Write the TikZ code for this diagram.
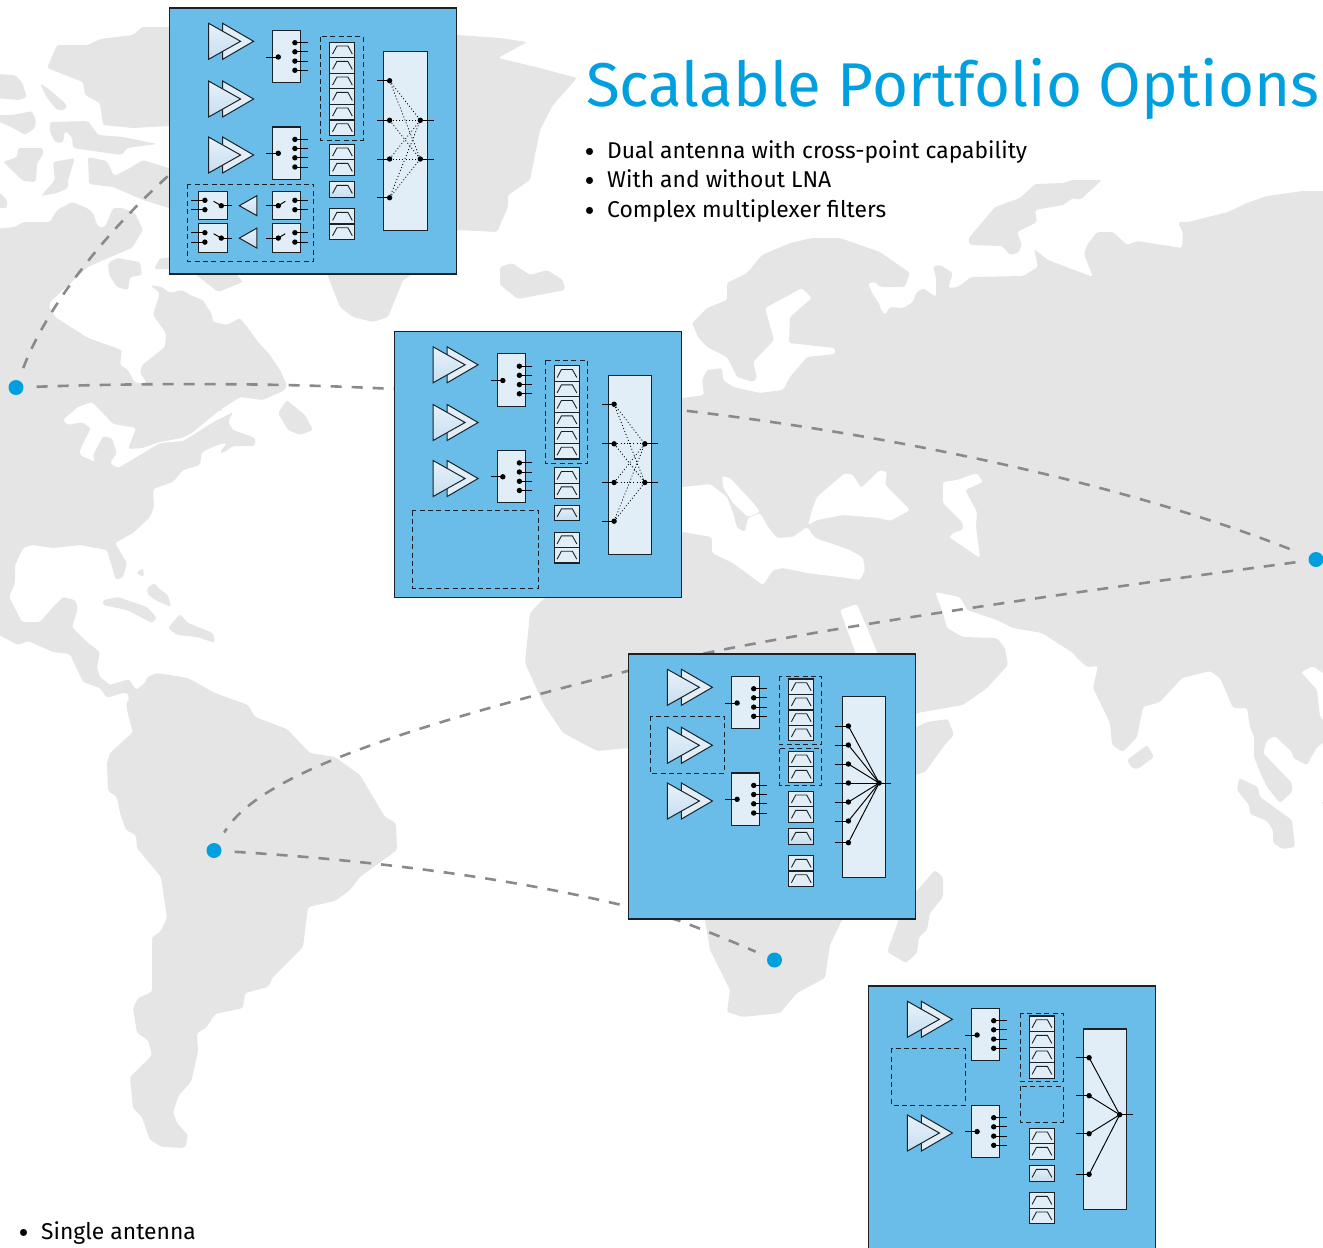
\documentclass[tikz,border=0pt]{standalone}
\usepackage{fontspec}
\setmainfont{Fira Sans}
\definecolor{land}{HTML}{E5E5E5}
\definecolor{cardblue}{HTML}{69BDE8}
\definecolor{panel}{HTML}{E1EEF8}
\definecolor{panelhi}{HTML}{E8F2FA}
\definecolor{panello}{HTML}{C6DEF0}
\definecolor{accent}{HTML}{009FDF}
\definecolor{route}{HTML}{8A8A8C}
\definecolor{ink}{HTML}{1A2228}
\tikzset{
  landmass/.style={fill=land,draw=none,rounded corners=2.5pt},
  sea/.style={fill=white,draw=none,rounded corners=2.5pt},
  routeline/.style={draw=route,line width=2.6pt,dash pattern=on 11pt off 10pt,shorten <=13pt,shorten >=13pt},
  site/.style={circle,fill=accent,inner sep=0pt,minimum size=15pt},
  card/.style={fill=cardblue,draw=ink,line width=1.1pt},
  pane/.style={fill=panel,draw=ink,line width=1.05pt},
  amp/.style={draw=ink,line width=1pt,line join=miter,top color=panelhi,bottom color=panello},
  ampback/.style={draw=ink,line width=1pt,line join=miter,fill=panel},
  dashbox/.style={draw=ink,line width=.95pt,dash pattern=on 5pt off 3.4pt},
  wdot/.style={circle,fill=black,inner sep=0pt,minimum size=5.4pt},
  wire/.style={draw=black,line width=.95pt},
  glyph/.style={draw=ink,line width=.9pt},
  dotwire/.style={draw=black,line width=.8pt,dash pattern=on 1pt off 2.2pt},
  bodytext/.style={anchor=base west,inner sep=0pt,font=\fontsize{22.85}{22.85}\selectfont,text=black},
  titletext/.style={anchor=base west,inner sep=0pt,font=\fontsize{61.85}{61.85}\selectfont,text=accent}
}
\newcommand\AmpPair[1]{%
  \path[ampback] (53,#1-18) -- (84,#1) -- (53,#1+18) -- cycle;
  \path[amp] (39,#1-18) -- (71,#1) -- (39,#1+18) -- cycle;}
\newcommand\Pin[4]{%
  \node[wdot] (#1) at (#2,#3) {};
  \coordinate (#1s) at (#4,#3);
  \draw[wire] (#1s) -- (#1.center);}
\newcommand\SwFour[3]{% name, top, input y
  \draw[pane] (103,#2) rectangle (131.3,#2+52.4);
  \Pin{#1in}{108.7}{#3}{96.7}
  \foreach \k/\d in {a/12.4,b/21.5,c/30.8,d/40}{\Pin{#1\k}{125.3}{#2+\d}{138.3}}}
\newcommand\Filts[2]{% x, list of tops
  \foreach \t in {#2}{%
    \draw[pane] (#1,\t) rectangle (#1+25.3,\t+15.5);
    \draw[glyph] (#1+3,\t+11.7) -- (#1+7.3,\t+3.7) -- (#1+18.3,\t+3.7) -- (#1+22.7,\t+11.7);}}
\newcommand\Solo[2]{%
  \path[pane,top color=panelhi,bottom color=panello] (#1,#2) rectangle (#1+25.3,#2+15.5);
  \draw[glyph] (#1+3,#2+11.7) -- (#1+7.3,#2+3.7) -- (#1+18.3,#2+3.7) -- (#1+22.7,#2+11.7);}
\begin{document}
\begin{tikzpicture}[x=1pt,y=-1pt]
\useasboundingbox (0,0) rectangle (1323,1248);
% ---------- map ----------
\fill[landmass] (47,68)--(57,45)--(88,45)--(100,39)--(133,35)--(142,27)--(170,27)--(200,20)--(457,35)--(500,38)--(527,42)--(498,58)--(540,68)--(577,78)--(553,105)--(540,130)--(530,180)--(508,195)--(508,207)--(497,232)--(457,230)--(430,250)--(413,274)--(403,280)--(388,317)--(373,322)--(353,317)--(340,307)--(327,274)--(300,200)--(200,150)--(170,126)--(133,128)--(103,125)--(100,103)--(85,95)--(83,82)--cycle;
\fill[landmass] (-5,74)--(15,75)--(22,82)--(27,97)--(20,100)--(-5,98)--cycle;
\fill[landmass] (40,83)--(50,90)--(67,105)--(65,110)--(57,110)--(47,98)--cycle;
\fill[landmass] (-5,115)--(13,115)--(32,111)--(36,120)--(35,128)--(25,135)--(13,128)--(-5,120)--cycle;
\fill[landmass] (50,122)--(88,121)--(98,135)--(123,137)--(157,144)--(127,148)--(122,155)--(100,152)--(73,148)--(72,137)--(65,131)--(63,143)--(55,142)--(50,132)--cycle;
\fill[landmass] (3,162)--(17,157)--(18,148)--(43,148)--(43,155)--(37,163)--(36,182)--(23,181)--(15,173)--cycle;
\fill[landmass] (53,162)--(75,158)--(68,180)--(68,188)--(57,193)--(41,196)--(55,180)--cycle;
\fill[landmass] (88,157)--(107,161)--(114,176)--(128,169)--(143,160)--(175,170)--(175,210)--(143,200)--(113,187)--(89,184)--cycle;
\fill[landmass] (-5,188)--(7,200)--(7,208)--(-5,208)--cycle;
\fill[landmass] (108,263)--(117,258)--(140,262)--(142,275)--(130,277)--(128,290)--(117,287)--(109,275)--cycle;
\fill[landmass] (154,269)--(160,258)--(175,257)--(175,269)--cycle;
\fill[landmass] (190,270)--(218,292)--(243,282)--(233,270)--cycle;
% Americas
\fill[landmass] (-5,229)--(15,227)--(23,222)--(50,222)--(57,210)--(72,202)--(87,208)--(93,213)--(98,227)--(105,227)--(113,208)--(122,208)--(135,213)--(143,230)--(132,248)--(108,258)--(88,267)--(50,302)--(49,307)--(55,317)--(88,338)--(122,350)--(120,365)--(128,370)--(135,383)--(147,383)--(140,373)--(142,365)--(165,347)--(166,333)--(153,315)--(160,293)--(150,285)--(162,287)--(170,293)--(182,290)--(190,295)--(203,300)--(212,315)--(213,322)--(227,325)--(240,318)--(248,328)--(258,342)--(270,355)--(280,370)--(287,385)--(285,390)--(263,400)--(240,397)--(220,410)--(233,412)--(228,422)--(233,430)--(255,438)--(255,446)--(233,446)--(223,453)--(220,452)--(227,443)--(217,445)--(202,452)--(200,465)--(183,470)--(173,482)--(153,489)--(154,507)--(150,517)--(133,533)--(115,543)--(127,563)--(123,577)--(116,580)--(107,550)--(80,545)--(53,548)--(32,545)--(23,548)--(15,565)--(15,583)--(9,597)--(22,622)--(40,622)--(53,607)--(63,597)--(75,600)--(78,608)--(72,627)--(87,642)--(100,652)--(97,667)--(100,677)--(110,685)--(129,679)--(136,690)--(145,683)--(147,677)--(157,673)--(188,678)--(215,693)--(248,705)--(255,717)--(287,729)--(310,753)--(335,757)--(360,775)--(385,817)--(396,823)--(397,850)--(360,877)--(350,890)--(335,901)--(308,907)--(303,947)--(273,977)--(268,987)--(245,993)--(243,1008)--(215,1014)--(206,1028)--(197,1033)--(198,1052)--(191,1082)--(179,1095)--(173,1112)--(177,1123)--(188,1135)--(185,1148)--(162,1147)--(150,1140)--(142,1117)--(133,1108)--(130,1077)--(152,1055)--(148,1040)--(137,1033)--(133,1008)--(138,998)--(152,992)--(152,937)--(160,932)--(167,918)--(161,877)--(137,848)--(136,835)--(126,830)--(120,813)--(117,797)--(108,791)--(107,763)--(110,753)--(133,732)--(128,715)--(126,702)--(129,702)--(128,693)--(122,693)--(107,698)--(100,688)--(83,682)--(70,654)--(53,652)--(28,641)--(18,645)--(-5,633)--cycle;
% lakes and St Lawrence
\fill[sea] (63,420)--(78,407)--(92,402)--(113,424)--(136,428)--(128,449)--(143,448)--(160,442)--(182,438)--(192,433)--(220,410)--(233,412)--(213,422)--(193,435)--(183,441)--(160,443)--(118,468)--(110,463)--(117,453)--(112,438)--(103,436)--(93,455)--(95,462)--(80,455)--(80,450)--(91,428)--(82,422)--(68,425)--cycle;
% Newfoundland, Caribbean
\fill[landmass] (278,413)--(287,400)--(290,403)--(305,415)--(313,430)--(300,435)--(288,430)--cycle;
\fill[landmass] (103,600)--(118,597)--(147,607)--(157,618)--(152,623)--(127,610)--(103,605)--cycle;
\fill[landmass] (168,628)--(180,614)--(188,623)--(213,633)--(215,643)--(197,637)--(177,635)--cycle;
\fill[landmass] (136,573)--(143,568)--(144,577)--cycle;
\fill[landmass] (147,588)--(155,583)--(158,588)--(168,595)--(171,607)--(157,601)--(148,595)--cycle;
% Eurasia + Africa
\fill[landmass] (692,323)--(707,308)--(727,300)--(727,283)--(747,273)--(762,255)--(790,243)--(812,238)--(840,238)--(880,252)--(910,273)--(905,287)--(880,287)--(875,282)--(868,283)--(872,293)--(880,305)--(880,308)--(885,315)--(890,307)--(903,308)--(913,302)--(916,293)--(923,288)--(936,297)--(936,277)--(933,266)--(940,265)--(953,273)--(948,288)--(958,287)--(971,277)--(1023,276)--(1038,267)--(1034,249)--(1048,260)--(1077,271)--(1093,277)--(1084,254)--(1087,245)--(1097,232)--(1113,232)--(1127,245)--(1137,241)--(1182,248)--(1183,233)--(1178,222)--(1188,222)--(1228,212)--(1247,203)--(1267,196)--(1303,191)--(1330,191)--(1330,678)--(1313,666)--(1301,672)--(1317,690)--(1320,717)--(1330,726)--(1330,738)--(1317,747)--(1307,765)--(1293,758)--(1292,752)--(1275,736)--(1267,740)--(1263,753)--(1292,783)--(1292,792)--(1280,803)--(1267,787)--(1260,772)--(1254,757)--(1254,737)--(1250,727)--(1247,708)--(1233,708)--(1220,678)--(1210,671)--(1182,678)--(1160,702)--(1143,707)--(1137,737)--(1123,752)--(1112,745)--(1110,723)--(1093,688)--(1098,666)--(1087,667)--(1077,658)--(1073,653)--(1042,633)--(1013,628)--(997,620)--(967,610)--(960,597)--(935,592)--(943,613)--(947,628)--(963,637)--(997,638)--(1005,648)--(1008,665)--(987,688)--(963,705)--(917,713)--(890,760)--(880,900)--(842,920)--(830,945)--(825,978)--(797,993)--(780,1013)--(743,1017)--(727,1012)--(730,990)--(715,960)--(710,950)--(705,920)--(650,800)--(628,748)--(597,751)--(563,733)--(543,703)--(525,663)--(530,613)--(542,600)--(560,590)--(600,540)--(640,400)--(683,398)--(704,395)--(702,380)--(707,370)--(722,368)--(723,380)--(733,387)--(760,393)--(783,390)--(790,377)--(807,357)--(835,354)--(835,348)--(789,343)--(790,317)--(812,298)--(802,288)--(765,308)--(774,340)--(753,362)--(757,378)--(753,382)--(737,377)--(727,357)--(707,347)--(698,337)--cycle;
% seas
\fill[sea] (670,487)--(683,487)--(710,484)--(727,497)--(733,513)--(737,528)--(745,532)--(748,518)--(760,513)--(768,527)--(777,538)--(793,537)--(807,527)--(815,538)--(850,550)--(863,558)--(865,570)--(860,580)--(840,577)--(807,573)--(783,568)--(773,570)--(763,585)--(733,563)--(712,553)--(712,537)--(683,532)--(670,532)--cycle;
\fill[sea] (722,476)--(730,478)--(755,505)--(760,512)--(748,517)--(733,503)--(723,487)--cycle;
\fill[sea] (817,497)--(845,473)--(853,475)--(861,488)--(880,470)--(887,472)--(885,485)--(910,510)--(890,521)--(880,518)--(843,515)--(817,520)--(808,525)--(812,510)--cycle;
\fill[sea] (943,482)--(957,480)--(977,473)--(983,482)--(965,490)--(977,512)--(976,527)--(980,558)--(949,537)--(955,532)--(963,530)--(963,523)--(943,503)--cycle;
\fill[sea] (840,610)--(857,604)--(877,652)--(880,665)--(860,665)--cycle;
% islands east
\fill[landmass] (968,239)--(995,207)--(1020,198)--(1035,184)--(1063,183)--(1072,180)--(1102,180)--(1080,200)--(1073,198)--(1063,205)--(1035,210)--(1037,222)--(1017,232)--(1022,245)--(1018,253)--(1010,255)--(1002,246)--(970,245)--cycle;
\fill[landmass] (500,267)--(512,263)--(530,275)--(547,270)--(563,280)--(565,290)--(518,299)--(500,285)--cycle;
\fill[landmass] (1127,760)--(1147,745)--(1154,757)--(1138,769)--(1132,768)--cycle;
\fill[landmass] (1239,778)--(1258,787)--(1260,797)--(1292,820)--(1295,847)--(1283,849)--(1273,843)--(1273,830)--(1267,821)--(1250,814)--(1249,805)--(1237,790)--cycle;
\fill[landmass] (1321,802)--(1330,799)--(1330,814)--cycle;
\fill[landmass] (900,735)--(927,722)--(948,719)--(954,735)--(947,742)--(925,772)--(900,780)--cycle;
\fill[landmass] (900,910)--(935,870)--(943,877)--(943,897)--(930,913)--(927,930)--(919,937)--(917,953)--(906,963)--(887,952)--(898,922)--cycle;
% ---------- sites and routes ----------
\node[site] (siteNA) at (16,387.5) {};
\node[site] (siteAS) at (1316,559.5) {};
\node[site] (siteSA) at (214,850.5) {};
\node[site] (siteAF) at (774.5,960) {};
\coordinate (cardAw) at (168,176);
\coordinate (thruC) at (620,673);
\coordinate (thruD) at (677,920);
\draw[routeline,shorten >=0pt] (siteNA) .. controls (42,318) and (92,245) .. (cardAw);
\draw[routeline] (siteNA) .. controls (170,382) and (300,384) .. (394,389) -- (688,411) .. controls (900,436) and (1130,485) .. (siteAS);
\draw[routeline] (siteAS) .. controls (1000,602) and (740,640) .. (thruC) .. controls (430,722) and (260,770) .. (siteSA);
\draw[routeline] (siteSA) .. controls (400,862) and (560,885) .. (thruD) .. controls (710,932) and (745,947) .. (siteAF);
% ---------- card A ----------
\begin{scope}[shift={(169.6,8)}]
\draw[card] (0,0) rectangle (287.3,266);
\AmpPair{33.3}\AmpPair{91}\AmpPair{147}
\SwFour{aS}{22.3}{49}
\SwFour{aT}{119}{145.3}
\draw[dashbox] (151.3,28.7) rectangle (193.7,132);
\Filts{160}{34.3,49.7,65.3,80.7,96.3,112,136.3,151.7,200.7,216}
\Solo{160}{173.7}
\draw[pane] (214,43.7) rectangle (257.7,222.7);
\Pin{aL1}{220}{72.7}{207.7}\Pin{aL2}{220}{112.3}{207.7}\Pin{aL3}{220}{151}{207.7}\Pin{aL4}{220}{189.7}{207.7}
\Pin{aR1}{250.7}{112.3}{264.3}\Pin{aR2}{250.7}{151}{264.3}
\foreach \i in {1,2,3,4}{\foreach \j in {1,2}{\draw[dotwire] (aL\i.center) -- (aR\j.center);}}
\draw[dashbox] (18.3,176) rectangle (144.3,253.3);
\foreach \n/\t in {u/183.3,v/215.7}{%
  \draw[pane] (29,\t) rectangle (57.7,\t+28.4);
  \draw[pane] (103,\t) rectangle (131.3,\t+28.4);
  \Pin{a\n A}{35.3}{\t+9}{21.7}\Pin{a\n B}{35.3}{\t+18.4}{21.7}
  \Pin{a\n C}{51.7}{\t+14.4}{62.3}
  \coordinate (a\n Cl) at (44,\t+10);
  \draw[wire] (a\n C.center) -- (a\n Cl);
  \Pin{a\n D}{108.7}{\t+14.4}{96.7}
  \coordinate (a\n Dl) at (115.7,\t+10);
  \draw[wire] (a\n D.center) -- (a\n Dl);
  \Pin{a\n E}{125.3}{\t+9}{138.3}\Pin{a\n F}{125.3}{\t+18.4}{138.3}
  \path[amp] (69.7,\t+14.4) -- (87.3,\t+4.4) -- (87.3,\t+24.4) -- cycle;}
\end{scope}
% ---------- card B ----------
\begin{scope}[shift={(394.1,331.5)}]
\draw[card] (0,0) rectangle (287.3,266);
\AmpPair{33.3}\AmpPair{91}\AmpPair{147}
\SwFour{bS}{22.3}{49}
\SwFour{bT}{119}{145.3}
\draw[dashbox] (151.3,28.7) rectangle (193.7,132);
\Filts{160}{34.3,49.7,65.3,80.7,96.3,112,136.3,151.7,200.7,216}
\Solo{160}{173.7}
\draw[pane] (214,43.7) rectangle (257.7,222.7);
\Pin{bL1}{220}{72.7}{207.7}\Pin{bL2}{220}{112.3}{207.7}\Pin{bL3}{220}{151}{207.7}\Pin{bL4}{220}{189.7}{207.7}
\Pin{bR1}{250.7}{112.3}{264.3}\Pin{bR2}{250.7}{151}{264.3}
\foreach \i in {1,2,3,4}{\foreach \j in {1,2}{\draw[dotwire] (bL\i.center) -- (bR\j.center);}}
\draw[dashbox] (18.3,179) rectangle (144.3,256.5);
\end{scope}
% ---------- card C ----------
\begin{scope}[shift={(628.4,654)}]
\draw[card] (0,0) rectangle (287.5,265);
\AmpPair{33.3}\AmpPair{91.3}\AmpPair{147}
\draw[dashbox] (22.3,62.3) rectangle (96,119.7);
\SwFour{cS}{22.3}{49}
\SwFour{cT}{119}{145.3}
\draw[dashbox] (151,22.3) rectangle (193.3,90.7);
\draw[dashbox] (151,94.7) rectangle (193.3,131);
\Filts{160}{25,40.3,56,71.3,97.3,112.7,137.3,152.7,201.7,217}
\Solo{160}{174.7}
\draw[pane] (214,42.7) rectangle (257.3,223.3);
\Pin{cH}{250.7}{129}{263}
\foreach \i/\y in {1/72,2/91,3/110,4/129,5/148,6/167,7/188.7}{%
  \Pin{cL\i}{220}{\y}{207}
  \draw[wire] (cL\i.center) -- (cH.center);}
\end{scope}
% ---------- card D ----------
\begin{scope}[shift={(868.4,986)}]
\draw[card] (0,0) rectangle (287.5,270);
\AmpPair{33.3}\AmpPair{147}
\draw[dashbox] (23.3,62.3) rectangle (96.7,119.3);
\SwFour{dS}{22.3}{49}
\SwFour{dT}{119.3}{145.6}
\draw[dashbox] (152.3,27.3) rectangle (194.7,95.7);
\draw[dashbox] (152.3,100) rectangle (194.7,136.3);
\Filts{160.7}{30,45.7,61.3,76.7,142.3,157.7,206.7,222.3}
\Solo{160.7}{179.7}
\draw[pane] (214.7,43) rectangle (258.3,223.3);
\Pin{dH}{251.3}{128.7}{264.3}
\foreach \i/\y in {1/71.7,2/109.7,3/147.7,4/188.3}{%
  \Pin{dL\i}{220.7}{\y}{208}
  \draw[wire] (dL\i.center) -- (dH.center);}
\end{scope}
% ---------- text ----------
\node[titletext] (title) at (586,106) {Scalable Portfolio Options};
\node[bodytext] (b1) at (584.5,162) {\scalebox{1.35}{•}};
\node[bodytext] (t1) at (607,158.5) {Dual antenna with cross-point capability};
\node[bodytext] (b2) at (584.5,191) {\scalebox{1.35}{•}};
\node[bodytext] (t2) at (607,187.5) {With and without LNA};
\node[bodytext] (b3) at (584.5,221) {\scalebox{1.35}{•}};
\node[bodytext] (t3) at (607,217.5) {Complex multiplexer filters};
\node[bodytext] (b4) at (18.5,1243) {\scalebox{1.35}{•}};
\node[bodytext] (t4) at (41,1239.5) {Single antenna};
\end{tikzpicture}
\end{document}
